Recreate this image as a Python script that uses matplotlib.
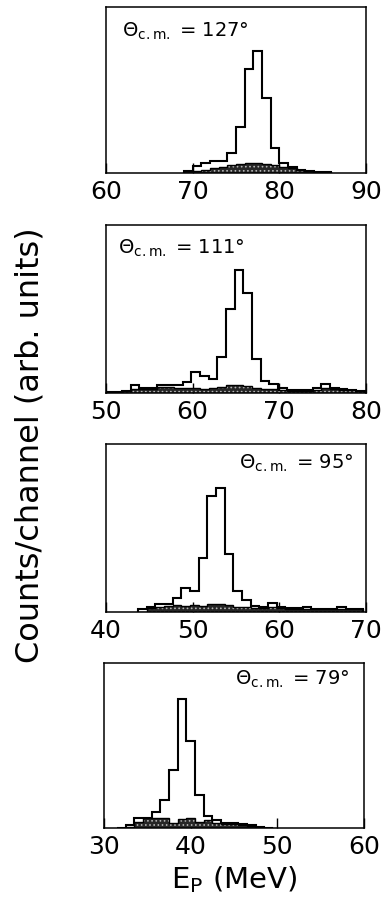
"""Proton spectra at four c.m. angles, stacked panels."""
import numpy as np
import matplotlib
matplotlib.use("Agg")
import matplotlib.pyplot as plt

# ---- data (counts/channel, arb. units; 1 MeV channels) ----
labels = ["127", "111", "95", "79"]
xlims = [(60, 90), (50, 80), (40, 70), (30, 60)]
xticks = [[60, 70, 80, 90], [50, 60, 70, 80], [40, 50, 60, 70], [30, 40, 50, 60]]
ylims = [166, 168, 168, 165]

# first bin edge of each spectrum (MeV)
start_127 = 69.0
start_111 = 49.85
start_95 = 43.7
start_79 = 31.5

# total spectra (open histograms)
total_127 = [2, 7, 10, 12.3, 12.3, 20.3, 45.7, 103.7, 122.3, 74.7, 24.7, 10.3,
             6.5, 3.5, 2.5, 1.5, 0.8]
total_111 = [0.7, 1.5, 2, 8, 4.7, 4.7, 8, 8, 8, 10.7, 21.3, 17.3, 14, 36, 84,
             123.3, 100, 34, 11.7, 8.7, 4.7, 3, 3, 3, 4.7, 8.7, 5.3, 4, 3.3, 2.3]
total_95 = [2.7, 5, 8, 8, 14, 24, 20.7, 54, 116, 124, 58, 21.3, 11.7, 6, 5,
            8.7, 5, 4, 4, 5.3, 3.5, 3.5, 3.5, 5.3, 3.5, 3.3]
total_79 = [0.5, 3.3, 10, 10, 15.7, 28.3, 57.7, 129, 86.7, 32.7, 12.3, 7.7, 5,
            5.3, 4, 2.7, 1.3, 0.5]

# background spectra (shaded histograms)
bkg_127 = [2, 2.5, 3.5, 5, 6.5, 8, 9.5, 10.5, 10.5, 9.5, 8, 6.5, 5, 3.5, 2.5,
           1.5, 0.8]
bkg_111 = [0.5, 1.5, 2, 4, 4.5, 4.5, 6, 6, 5, 5, 5, 4.5, 5, 6, 8, 8, 7, 5, 4,
           4, 3, 2.5, 2.5, 2.5, 3, 5, 4, 3.5, 3, 2]
bkg_95 = [0, 4, 5, 6, 7, 6, 7, 6, 8, 8, 7, 5, 5, 4.5, 4.5, 5, 4, 3.5, 3.5,
          3.5, 3, 3, 3, 3, 3, 3]
bkg_79 = [0, 1.5, 6, 10, 10, 10, 5, 9, 10, 6, 8, 5, 4.5, 4, 3, 2, 1, 0.4]

starts = [start_127, start_111, start_95, start_79]
totals = [total_127, total_111, total_95, total_79]
bkgs = [bkg_127, bkg_111, bkg_95, bkg_79]

# ---- layout (figure fractions from the 382x907 px target) ----
W, H = 382, 907
boxes = [(106, 7, 260, 166), (106, 225, 260, 168),
         (106, 444, 260, 168), (104, 663, 260, 165)]
text_pos = [(0.06, 0.852, "left"), (0.046, 0.863, "left"),
            (0.95, 0.884, "right"), (0.942, 0.903, "right")]

plt.rcParams["font.family"] = ["DejaVu Sans"]
plt.rcParams["mathtext.fontset"] = "dejavusans"
plt.rcParams["hatch.linewidth"] = 0.7

fig = plt.figure(figsize=(W / 100, H / 100), dpi=100)

for i in range(4):
    x0, top, w, h = boxes[i]
    ax = fig.add_axes([x0 / W, 1 - (top + h) / H, w / W, h / H])

    tot = np.array(totals[i], dtype=float)
    bkg = np.array(bkgs[i], dtype=float)
    edges = starts[i] + np.arange(len(tot) + 1)

    # shaded background
    ax.stairs(bkg, edges, fill=True, facecolor="0.15", edgecolor="0.7",
              hatch="....", linewidth=0, zorder=2)
    ax.stairs(bkg, edges, color="black", linewidth=1.0, zorder=3)
    # total spectrum
    ax.stairs(tot, edges, color="black", linewidth=1.5, zorder=4)

    ax.set_xlim(*xlims[i])
    ax.set_ylim(0, ylims[i])
    ax.set_xticks(xticks[i])
    ax.set_yticks([])
    ax.tick_params(axis="x", direction="in", length=7, width=1,
                   labelsize=18, pad=5)
    for sp in ax.spines.values():
        sp.set_linewidth(1.1)

    tx, ty, ha = text_pos[i]
    ax.text(tx, ty, r"$\Theta_{\mathrm{c.m.}}$ = " + labels[i] + "°",
            transform=ax.transAxes, ha=ha, va="center", fontsize=14, zorder=5)

fig.text(30 / W, 1 - 445 / H, "Counts/channel (arb. units)", rotation=90,
         ha="center", va="center", fontsize=23)
fig.text(234 / W, 1 - 880 / H, r"E$_\mathrm{P}$ (MeV)", ha="center",
         va="center", fontsize=21)

fig.savefig("out.png", dpi=100)
